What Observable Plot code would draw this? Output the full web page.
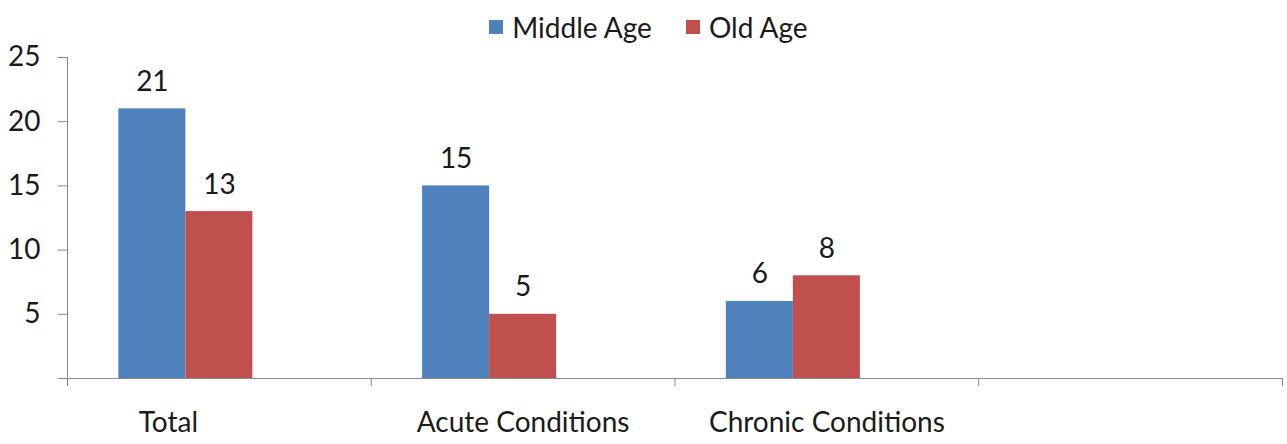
<!DOCTYPE html>
<html>
<head>
<meta charset="utf-8">
<script src="https://cdn.jsdelivr.net/npm/d3@7"></script>
<script src="https://cdn.jsdelivr.net/npm/@observablehq/plot@0.6"></script>
<style>
  body { margin: 0; background: #fff; font-family: Lato, "Open Sans", sans-serif; color: #1a1a1a; }
  #wrap { position: relative; width: 1287px; height: 444px; }
  #legend { position: absolute; top: 0; left: 0; width: 1287px; height: 54px; display: flex; justify-content: center; align-items: center; padding-left: 10px; box-sizing: border-box; font-size: 28px; }
  .item { display: flex; align-items: center; margin: 0 17px; }
  .swatch { width: 14px; height: 14px; margin-right: 9px; }
</style>
</head>
<body>
<div id="wrap">
  <div id="chart"></div>
  <div id="legend"></div>
</div>
<script>
// Categories and values for the two age groups
const categories = ["Total", "Acute Conditions", "Chronic Conditions", ""];
const seriesNames = ["Middle Age", "Old Age"];
const middleAge = [21, 15, 6, null];
const oldAge = [13, 5, 8, null];
const seriesColors = ["#4F81BD", "#C0504D"];
const yTicks = [0, 5, 10, 15, 20, 25];

// Each category band holds three bar slots (the third is unused), centred in the band
const slotCount = 3;
const barWidth = 0.2206;
const bandOffset = (1 - slotCount * barWidth) / 2;

const seriesValues = [middleAge, oldAge];
const rows = [];
categories.forEach((category, i) => {
  seriesValues.forEach((values, j) => {
    const value = values[i];
    if (value == null) return;
    const x1 = i + bandOffset + j * barWidth;
    rows.push({category, series: seriesNames[j], value, x1, x2: x1 + barWidth});
  });
});

const labelRows = categories.map((name, i) => ({name, x: i + 0.5})).filter(d => d.name);

// Legend
const legend = document.getElementById("legend");
seriesNames.forEach((name, j) => {
  const item = document.createElement("div");
  item.className = "item";
  const sw = document.createElement("div");
  sw.className = "swatch";
  sw.style.background = seriesColors[j];
  const label = document.createElement("span");
  label.textContent = name;
  item.append(sw, label);
  legend.append(item);
});

const axisGray = "#898989";
const textColor = "#1a1a1a";
const fontSize = 28;

const chart = Plot.plot({
  width: 1287,
  height: 444,
  marginTop: 57,
  marginBottom: 66,
  marginLeft: 67,
  marginRight: 5,
  style: {fontFamily: "Lato, 'Open Sans', sans-serif", fontSize: `${fontSize}px`, color: textColor, background: "#fff"},
  x: {domain: [0, categories.length], axis: null},
  y: {domain: [0, 25], axis: null},
  color: {domain: seriesNames, range: seriesColors},
  marks: [
    Plot.rectY(rows, {x1: "x1", x2: "x2", y: "value", fill: "series"}),
    Plot.text(rows, {x: d => (d.x1 + d.x2) / 2, y: "value", text: d => String(d.value), dy: -27, fontSize, fill: textColor}),
    Plot.ruleX([0], {y1: 0, y2: 25, stroke: axisGray}),
    Plot.ruleY([0], {stroke: axisGray}),
    Plot.axisY({ticks: yTicks, label: null, tickSize: 9, tickPadding: 18, tickFormat: d => d === 0 ? "" : String(d), stroke: axisGray, strokeOpacity: 1, fill: textColor, fontSize}),
    Plot.axisX({ticks: d3.range(categories.length + 1), label: null, tickSize: 8, tickFormat: () => "", stroke: axisGray, strokeOpacity: 1}),
    Plot.text(labelRows.slice(0, 1), {x: "x", y: 0, text: "name", dy: 45, dx: -51, fontSize, fill: textColor}),
    Plot.text(labelRows.slice(1), {x: "x", y: 0, text: "name", dy: 45, fontSize, fill: textColor})
  ]
});
document.getElementById("chart").append(chart);
</script>
</body>
</html>
